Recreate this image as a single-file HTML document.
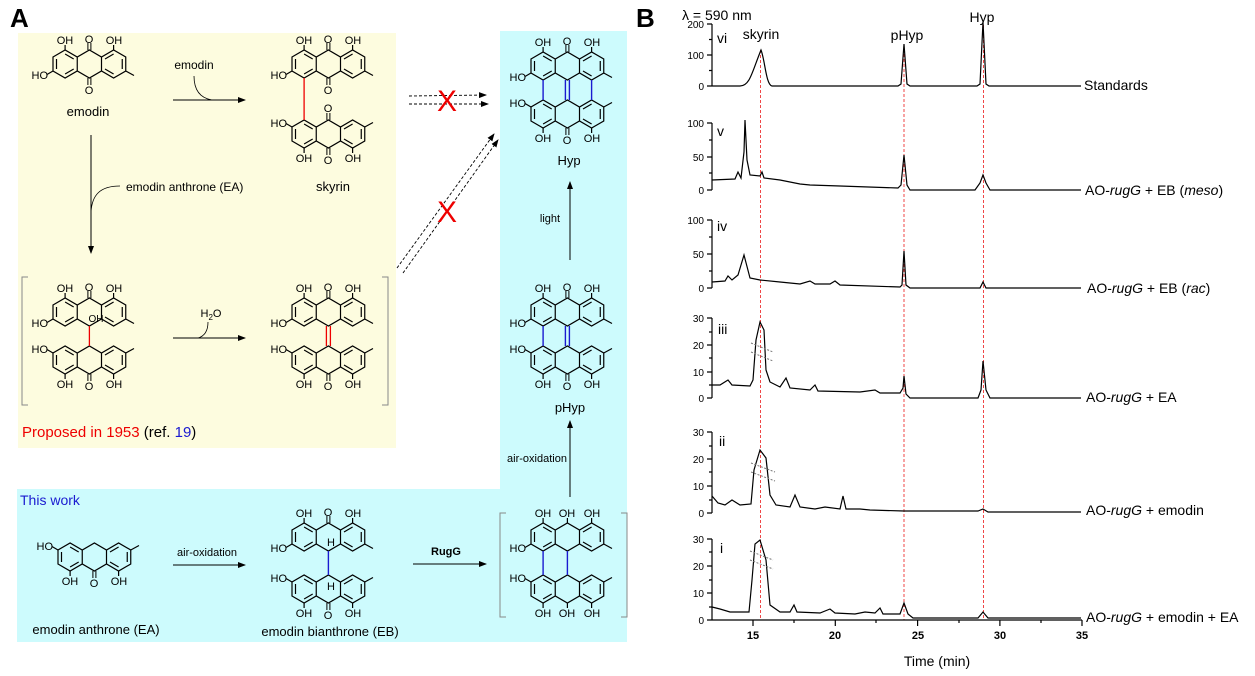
<!DOCTYPE html>
<html><head><meta charset="utf-8"><style>
html,body{margin:0;padding:0;background:#fff;}
svg{display:block;font-family:"Liberation Sans",sans-serif;}
.l{font-size:11px;text-anchor:middle;}
.e{font-size:11px;text-anchor:end;}
.m{font-size:13px;text-anchor:middle;}
.b{font-size:14px;}
.tk{font-size:10px;text-anchor:end;}
</style></head><body>
<svg width="1255" height="676" viewBox="0 0 1255 676" xmlns="http://www.w3.org/2000/svg">
<defs>
<marker id="ah" markerWidth="8" markerHeight="6" refX="7" refY="3" orient="auto" markerUnits="userSpaceOnUse"><path d="M0,0 L8,3 L0,6 Z" fill="#000"/></marker>
<g id="core"><path fill="none" stroke="#000" stroke-width="1.2" d="M0,7 L12.1,0 L24.25,7 L36.4,0 L48.5,7 L60.6,0 L72.75,7 L72.75,21 L60.6,28 L48.5,21 L36.4,28 L24.25,21 L12.1,28 L0,21 Z M24.25,7 V21 M48.5,7 V21 M3.5,9 V19 M12.1,4 L20.7,9 M20.7,19 L12.1,24 M69.25,9 V19 M60.6,4 L52,9 M52,19 L60.6,24"/></g>
<g id="unit"><use href="#core"/><path d="M12.1,0 V-5 M60.6,0 V-5 M0,21 L-6,24.5 M72.75,21 L81,25.5" stroke="#000" fill="none" stroke-width="1.2"/></g>
<g id="co"><path d="M34.9,0 V-7 M37.9,0 V-7" stroke="#000" stroke-width="1"/></g>
</defs>

<!-- backgrounds -->
<rect x="18" y="33" width="378" height="415" fill="#fdfcdf"/>
<rect x="500" y="31" width="127" height="611" fill="#cdfbfd"/>
<rect x="17" y="489" width="610" height="153" fill="#cdfbfd"/>

<text x="10" y="27" style="font-size:26px;font-weight:bold">A</text>
<text x="636" y="27" style="font-size:26px;font-weight:bold">B</text>

<!-- 1 emodin -->
<use href="#unit" transform="translate(53,50)"/><use href="#co" transform="translate(53,50)"/><use href="#co" transform="translate(53,78) scale(1,-1)"/>
<text class="l" x="65" y="44">OH</text><text class="l" x="89" y="43">O</text><text class="l" x="114" y="44">OH</text><text class="e" x="48" y="79">HO</text><text class="l" x="89" y="94">O</text>
<text class="m" x="88" y="116">emodin</text>

<!-- emodin arrow -->
<line x1="173" y1="100" x2="245" y2="100" stroke="#000" marker-end="url(#ah)"/>
<path d="M194,76 C194,90 200,98 212,100" fill="none" stroke="#000" stroke-width="0.8"/>
<text class="l" x="194" y="69" style="font-size:12px">emodin</text>

<!-- 2 skyrin -->
<use href="#unit" transform="translate(292,50)"/><use href="#co" transform="translate(292,50)"/><use href="#co" transform="translate(292,78) scale(1,-1)"/>
<use href="#unit" transform="translate(292,148) scale(1,-1)"/><use href="#co" transform="translate(292,120)"/><use href="#co" transform="translate(292,148) scale(1,-1)"/>
<line x1="304.1" y1="78" x2="304.1" y2="120" stroke="#e00" stroke-width="1.3"/>
<text class="l" x="304" y="44">OH</text><text class="l" x="328" y="43">O</text><text class="l" x="353" y="44">OH</text><text class="e" x="287" y="79">HO</text><text class="l" x="328" y="94">O</text>
<text class="l" x="328" y="112">O</text><text class="e" x="287" y="127">HO</text><text class="l" x="304" y="162">OH</text><text class="l" x="328" y="164">O</text><text class="l" x="353" y="162">OH</text>
<text class="m" x="333" y="191">skyrin</text>

<!-- dashed arrows + X -->
<g stroke="#000" stroke-dasharray="3,2" stroke-width="0.9" marker-end="url(#ah)">
<line x1="409" y1="96" x2="486" y2="95"/><line x1="409" y1="104" x2="488" y2="104"/>
<line x1="397" y1="268" x2="494" y2="134"/><line x1="403" y1="273" x2="498" y2="140"/>
</g>
<text x="447" y="111" style="font-size:30px;fill:#e00;text-anchor:middle">X</text>
<text x="447" y="222" style="font-size:30px;fill:#e00;text-anchor:middle">X</text>

<!-- 3 Hyp -->
<use href="#unit" transform="translate(531,52)"/><use href="#co" transform="translate(531,52)"/>
<use href="#unit" transform="translate(531,128) scale(1,-1)"/><use href="#co" transform="translate(531,128) scale(1,-1)"/>
<g stroke="#1a1ad0" stroke-width="1.4"><line x1="543.1" y1="80" x2="543.1" y2="100"/><line x1="591.6" y1="80" x2="591.6" y2="100"/><line x1="565.4" y1="80" x2="565.4" y2="100"/><line x1="569.4" y1="80" x2="569.4" y2="100"/></g>
<text class="l" x="543" y="46">OH</text><text class="l" x="567" y="45">O</text><text class="l" x="592" y="46">OH</text><text class="e" x="526" y="81">HO</text><text class="e" x="526" y="107">HO</text>
<text class="l" x="543" y="142">OH</text><text class="l" x="567" y="144">O</text><text class="l" x="592" y="142">OH</text>
<text class="m" x="569" y="165">Hyp</text>

<!-- light arrow -->
<line x1="570" y1="260" x2="570" y2="182" stroke="#000" marker-end="url(#ah)"/>
<text class="l" x="550" y="222">light</text>

<!-- vertical emodin->EA -->
<line x1="91" y1="135" x2="91" y2="253" stroke="#000" marker-end="url(#ah)"/>
<path d="M120,186 C100,186 92,195 91,212" fill="none" stroke="#000" stroke-width="0.8"/>
<text x="126" y="191" style="font-size:12px">emodin anthrone (EA)</text>

<!-- brackets left -->
<path d="M28,277 H22 V405 H28 M382,277 H388 V405 H382" fill="none" stroke="#888" stroke-width="1"/>

<!-- 4 hydroxy bianthrone -->
<use href="#unit" transform="translate(53,298)"/><use href="#co" transform="translate(53,298)"/>
<use href="#unit" transform="translate(53,374) scale(1,-1)"/><use href="#co" transform="translate(53,374) scale(1,-1)"/>
<line x1="89.4" y1="326" x2="89.4" y2="346" stroke="#e00" stroke-width="1.3"/>
<text x="96" y="322" style="font-size:10px;text-anchor:middle">OH</text>
<text class="l" x="65" y="292">OH</text><text class="l" x="89" y="291">O</text><text class="l" x="114" y="292">OH</text><text class="e" x="48" y="327">HO</text><text class="e" x="48" y="353">HO</text>
<text class="l" x="65" y="388">OH</text><text class="l" x="89" y="390">O</text><text class="l" x="114" y="388">OH</text>

<!-- H2O arrow -->
<line x1="173" y1="338" x2="245" y2="338" stroke="#000" marker-end="url(#ah)"/>
<path d="M198,338 C205,336 208,330 208,322" fill="none" stroke="#000" stroke-width="0.8"/>
<text x="211" y="317" style="font-size:11px;text-anchor:middle">H<tspan dy="3" style="font-size:8px">2</tspan><tspan dy="-3">O</tspan></text>

<!-- 5 dehydrodianthrone -->
<use href="#unit" transform="translate(292,298)"/><use href="#co" transform="translate(292,298)"/>
<use href="#unit" transform="translate(292,374) scale(1,-1)"/><use href="#co" transform="translate(292,374) scale(1,-1)"/>
<g stroke="#e00" stroke-width="1.3"><line x1="326.4" y1="326" x2="326.4" y2="346"/><line x1="330.4" y1="326" x2="330.4" y2="346"/></g>
<text class="l" x="304" y="292">OH</text><text class="l" x="328" y="291">O</text><text class="l" x="353" y="292">OH</text><text class="e" x="287" y="327">HO</text><text class="e" x="287" y="353">HO</text>
<text class="l" x="304" y="388">OH</text><text class="l" x="328" y="390">O</text><text class="l" x="353" y="388">OH</text>

<text x="22" y="437" style="font-size:15px"><tspan fill="#e00">Proposed in 1953</tspan> (ref. <tspan fill="#1a1ad0">19</tspan>)</text>

<!-- 6 pHyp -->
<use href="#unit" transform="translate(531,298)"/><use href="#co" transform="translate(531,298)"/>
<use href="#unit" transform="translate(531,374) scale(1,-1)"/><use href="#co" transform="translate(531,374) scale(1,-1)"/>
<g stroke="#1a1ad0" stroke-width="1.4"><line x1="543.1" y1="326" x2="543.1" y2="346"/><line x1="565.4" y1="326" x2="565.4" y2="346"/><line x1="569.4" y1="326" x2="569.4" y2="346"/></g>
<text class="l" x="543" y="292">OH</text><text class="l" x="567" y="291">O</text><text class="l" x="592" y="292">OH</text><text class="e" x="526" y="327">HO</text><text class="e" x="526" y="353">HO</text>
<text class="l" x="543" y="388">OH</text><text class="l" x="567" y="390">O</text><text class="l" x="592" y="388">OH</text>
<text class="m" x="570" y="412">pHyp</text>

<!-- air-oxidation vertical -->
<line x1="570" y1="497" x2="570" y2="421" stroke="#000" marker-end="url(#ah)"/>
<text class="l" x="537" y="462">air-oxidation</text>

<text x="20" y="505" style="font-size:14px;fill:#1a1ad0">This work</text>

<!-- 7 EA -->
<use href="#unit" transform="translate(58,571) scale(1,-1)"/><use href="#co" transform="translate(58,571) scale(1,-1)"/>
<text class="e" x="53" y="550">HO</text>
<text class="l" x="70" y="585">OH</text><text class="l" x="94" y="587">O</text><text class="l" x="119" y="585">OH</text>
<text class="m" x="96" y="634">emodin anthrone (EA)</text>

<line x1="173" y1="565" x2="245" y2="565" stroke="#000" marker-end="url(#ah)"/>
<text class="l" x="207" y="556">air-oxidation</text>

<!-- 8 EB -->
<use href="#unit" transform="translate(292,523)"/><use href="#co" transform="translate(292,523)"/>
<use href="#unit" transform="translate(292,603) scale(1,-1)"/><use href="#co" transform="translate(292,603) scale(1,-1)"/>
<line x1="328.4" y1="551" x2="328.4" y2="575" stroke="#1a1ad0" stroke-width="1.4"/>
<text class="l" x="331" y="546">H</text><text class="l" x="331" y="590">H</text>
<text class="l" x="304" y="517">OH</text><text class="l" x="328" y="516">O</text><text class="l" x="353" y="517">OH</text><text class="e" x="287" y="552">HO</text><text class="e" x="287" y="582">HO</text>
<text class="l" x="304" y="617">OH</text><text class="l" x="328" y="619">O</text><text class="l" x="353" y="617">OH</text>
<text class="m" x="330" y="636">emodin bianthrone (EB)</text>

<line x1="413" y1="564" x2="486" y2="564" stroke="#000" marker-end="url(#ah)"/>
<text class="l" x="446" y="555" style="font-weight:bold">RugG</text>

<!-- 9 bracket compound -->
<path d="M506,513 H500 V617 H506 M621,513 H627 V617 H621" fill="none" stroke="#888" stroke-width="1"/>
<use href="#unit" transform="translate(531,523)"/>
<use href="#unit" transform="translate(531,603) scale(1,-1)"/>
<path d="M567.4,523 V518 M567.4,603 V608" stroke="#000" stroke-width="1.2"/>
<g stroke="#1a1ad0" stroke-width="1.4"><line x1="543.1" y1="551" x2="543.1" y2="575"/><line x1="567.4" y1="551" x2="567.4" y2="575"/></g>
<text class="l" x="543" y="517">OH</text><text class="l" x="567" y="517">OH</text><text class="l" x="592" y="517">OH</text><text class="e" x="526" y="552">HO</text><text class="e" x="526" y="582">HO</text>
<text class="l" x="543" y="617">OH</text><text class="l" x="567" y="617">OH</text><text class="l" x="592" y="617">OH</text>

<!-- ============ Panel B ============ -->
<text x="682" y="20" class="b">λ = 590 nm</text>
<text x="761" y="39" class="b" text-anchor="middle">skyrin</text>
<text x="907" y="40" class="b" text-anchor="middle">pHyp</text>
<text x="982" y="22" class="b" text-anchor="middle">Hyp</text>

<g stroke="#e33" stroke-width="0.9" stroke-dasharray="3,2">
<line x1="760.5" y1="50" x2="760.5" y2="620"/><line x1="904" y1="44" x2="904" y2="620"/><line x1="983.5" y1="25" x2="983.5" y2="620"/>
</g>

<g stroke="#000" stroke-width="1.2" fill="none">
<!-- y axes -->
<path d="M712,24 V86 M707,24 H712 M707,55 H712 M707,86 H712 M709,39.5 H712 M709,70.5 H712"/>
<path d="M712,123 V190 M707,123 H712 M707,157 H712 M707,190 H712 M709,140 H712 M709,173 H712"/>
<path d="M712,220 V288 M707,220 H712 M707,254 H712 M707,288 H712 M709,237 H712 M709,271 H712"/>
<path d="M712,318 V398 M707,318 H712 M707,345 H712 M707,372 H712 M707,398 H712 M709,332 H712 M709,358 H712 M709,385 H712"/>
<path d="M712,432 V513 M707,432 H712 M707,459 H712 M707,486 H712 M707,513 H712 M709,446 H712 M709,472 H712 M709,500 H712"/>
<path d="M712,539 V620 M707,539 H712 M707,566 H712 M707,593 H712 M707,620 H712 M709,552 H712 M709,580 H712 M709,607 H712"/>
<!-- x axis -->
<path d="M712,620 H1082 M753,620 V626 M835.3,620 V626 M917.6,620 V626 M999.9,620 V626 M1082,620 V626 M794,620 V623 M876,620 V623 M959,620 V623 M1041,620 V623"/>
</g>
<g class="tk">
<text class="tk" x="704" y="28">200</text><text class="tk" x="704" y="59">100</text><text class="tk" x="704" y="90">0</text>
<text class="tk" x="704" y="127">100</text><text class="tk" x="704" y="161">50</text><text class="tk" x="704" y="194">0</text>
<text class="tk" x="704" y="224">100</text><text class="tk" x="704" y="258">50</text><text class="tk" x="704" y="292">0</text>
<text class="tk" x="704" y="322">30</text><text class="tk" x="704" y="349">20</text><text class="tk" x="704" y="376">10</text><text class="tk" x="704" y="402">0</text>
<text class="tk" x="704" y="436">30</text><text class="tk" x="704" y="463">20</text><text class="tk" x="704" y="490">10</text><text class="tk" x="704" y="517">0</text>
<text class="tk" x="704" y="543">30</text><text class="tk" x="704" y="570">20</text><text class="tk" x="704" y="597">10</text><text class="tk" x="704" y="624">0</text>
</g>
<g style="font-size:11px;font-weight:bold" text-anchor="middle">
<text x="753" y="639">15</text><text x="835" y="639">20</text><text x="918" y="639">25</text><text x="1000" y="639">30</text><text x="1082" y="639">35</text>
</g>
<text x="937" y="666" class="b" text-anchor="middle">Time (min)</text>

<g class="b">
<text x="717" y="43">vi</text><text x="717" y="136">v</text><text x="717" y="231">iv</text><text x="718" y="334">iii</text><text x="719" y="446">ii</text><text x="720" y="553">i</text>
</g>

<!-- traces -->
<g fill="none" stroke="#000" stroke-width="1.2">
<path d="M712,86 L740,86 C750,86 752,72 761,50 C765,60 766,85 772,86 L898,86 L901,84 L904,44 L907,84 L910,86 L977,86 L980,84 L983,22 L986,84 L989,86 L1081,86"/>
<path d="M712,180 L735,179 L738,172 L741,178 L744,152 L745,120 L747,160 L750,175 L760,176 L762,172 L764,178 L780,180 L800,184 L810,185 L840,186 L898,188 L901,185 L904,155 L907,185 L910,190 L975,190 L980,183 L983,175 L986,183 L990,190 L1081,190"/>
<path d="M712,282 L725,281 L728,276 L732,280 L738,275 L744,255 L750,278 L760,280 L780,282 L800,284 L810,281 L815,284 L830,284 L835,281 L840,285 L900,287 L902,285 L904,251 L906,285 L910,288 L980,288 L983,282 L986,288 L1081,288"/>
<path d="M712,385 L720,385 L728,380 L732,385 L750,386 L753,380 L756,340 L760,322 L764,330 L766,370 L770,382 L780,387 L786,378 L790,388 L810,390 L815,385 L818,391 L860,392 L875,390 L880,393 L900,393 L903,388 L904,376 L906,394 L910,398 L978,398 L981,390 L983,361 L986,390 L990,398 L1081,398"/>
<path d="M712,496 L718,503 L725,505 L732,500 L740,505 L751,504 L754,470 L760,450 L766,458 L770,495 L776,505 L790,507 L795,495 L800,507 L815,509 L825,507 L840,509 L843,496 L846,509 L860,509 L870,510 L904,511 L978,511 L983,509 L988,512 L1081,512"/>
<path d="M712,607 L720,609 L730,612 L749,612 L752,580 L755,544 L760,540 L766,560 L770,605 L780,612 L790,612 L794,605 L797,612 L820,613 L830,609 L835,613 L855,614 L865,612 L875,613 L880,608 L883,614 L900,614 L904,603 L908,614 L913,618 L978,618 L983,612 L988,618 L1081,618"/>
</g>
<!-- break marks -->
<g stroke="#777" stroke-width="1" stroke-dasharray="2,1.5">
<line x1="751" y1="343" x2="773" y2="352"/><line x1="751" y1="352" x2="773" y2="361"/>
<line x1="751" y1="463" x2="775" y2="472"/><line x1="751" y1="472" x2="775" y2="481"/>
<line x1="750" y1="551" x2="773" y2="560"/><line x1="750" y1="560" x2="773" y2="569"/>
</g>

<g class="b">
<text x="1084" y="90">Standards</text>
<text x="1085" y="195">AO-<tspan font-style="italic">rugG</tspan> + EB (<tspan font-style="italic">meso</tspan>)</text>
<text x="1087" y="293">AO-<tspan font-style="italic">rugG</tspan> + EB (<tspan font-style="italic">rac</tspan>)</text>
<text x="1086" y="402">AO-<tspan font-style="italic">rugG</tspan> + EA</text>
<text x="1086" y="515">AO-<tspan font-style="italic">rugG</tspan> + emodin</text>
<text x="1086" y="622">AO-<tspan font-style="italic">rugG</tspan> + emodin + EA</text>
</g>
</svg>
</body></html>
